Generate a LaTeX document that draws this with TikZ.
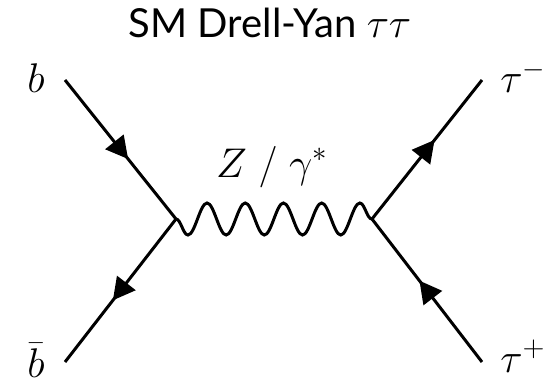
\documentclass[tikz,border=0pt]{standalone}
\usepackage{fontspec}
\setmainfont{Lato}
\usetikzlibrary{arrows.meta, decorations.markings, decorations.pathmorphing}

\tikzset{
  fermion/.style={line width=1.5pt, postaction={decorate},
    decoration={markings, mark=at position 0.57 with {\arrow{Triangle[length=11pt, width=11.5pt]}}}},
  boson/.style={line width=1.5pt, decorate,
    decoration={snake, mirror, amplitude=8pt, segment length=19.1pt}},
  lbl/.style={font=\fontsize{22}{26}\selectfont, inner sep=0pt},
}

\begin{document}
\begin{tikzpicture}[x=0.5pt, y=-0.5pt]
\useasboundingbox (0,0) rectangle (556,385);

%% -- title -------------------------------------------------------------------
\node[anchor=base, font=\fontsize{20}{24}\selectfont, inner sep=0pt] (title) at (270,38)
  {SM Drell-Yan $\tau\tau$};

%% -- vertices and external ends ---------------------------------------------
\coordinate (vl) at (176,219);
\coordinate (vr) at (372,219);
\coordinate (bin) at (65,80);
\coordinate (bbarin) at (65,362);
\coordinate (taumout) at (482,80);
\coordinate (taupout) at (482,362);

%% -- lines -------------------------------------------------------------------
\draw[fermion] (bin) -- (vl);
\draw[fermion] (vl) -- (bbarin);
\draw[fermion] (vr) -- (taumout);
\draw[fermion] (taupout) -- (vr);
\draw[boson] (vl) -- (vr);

%% -- labels ------------------------------------------------------------------
\node[lbl, anchor=base] (blbl) at (36,92) {$b$};
\node[lbl, anchor=base] (bbarlbl) at (36,377) {$\bar{b}$};
\node[lbl, anchor=base west] (taumlbl) at (500,93) {$\tau^-$};
\node[lbl, anchor=base west] (tauplbl) at (500,372) {$\tau^+$};
\node[lbl, anchor=base] (zlbl) at (272,177) {$Z \;/\; \gamma^*$};

\end{tikzpicture}
\end{document}
